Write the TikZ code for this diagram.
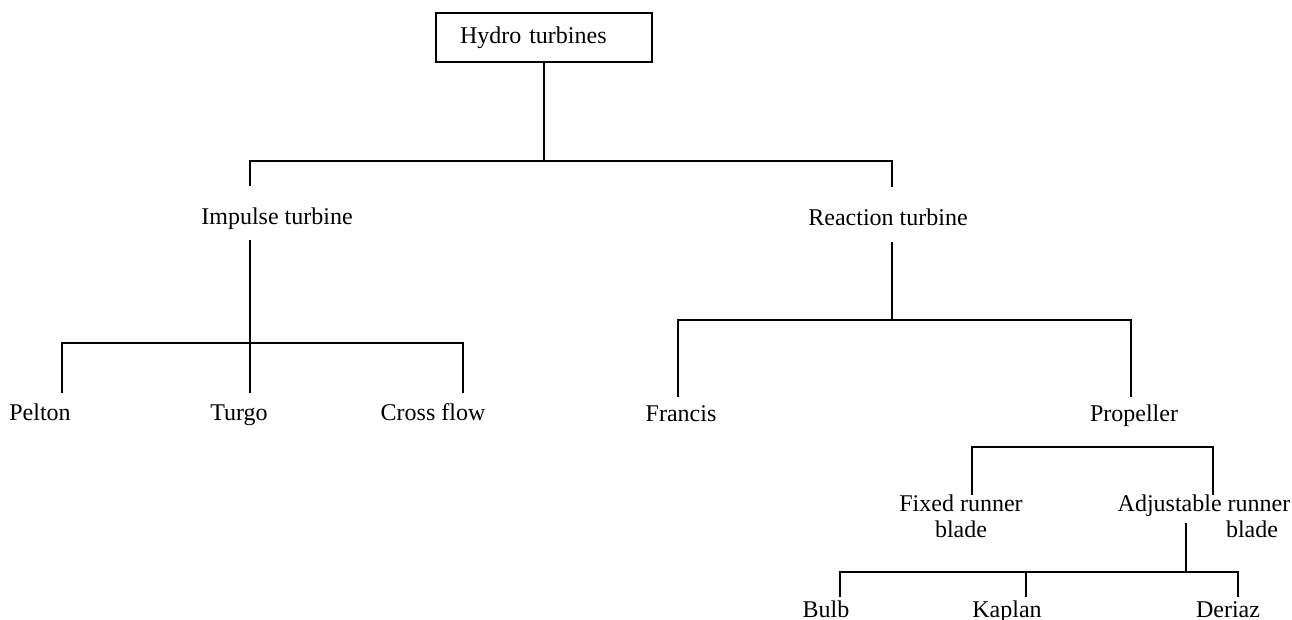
\documentclass[tikz,border=0pt]{standalone}
\usepackage{fontspec}
\setmainfont{Liberation Serif}
\usepackage{tikz}

\begin{document}
\begin{tikzpicture}[
    x=1pt, y=-1pt,
    box/.style={draw, line width=1.6pt, rectangle, minimum width=216pt, minimum height=49pt,
        inner xsep=24pt, text width=168pt, align=left, font=\fontsize{24pt}{26pt}\selectfont},
    lbl/.style={inner sep=0pt, text height=16pt, text depth=5pt, anchor=base,
        font=\fontsize{24pt}{26pt}\selectfont},
    lbltwo/.style={inner sep=0pt, anchor=north, align=center,
        font=\fontsize{24pt}{26pt}\selectfont},
    conn/.style={line width=1.9pt}
]
\useasboundingbox (0,0) rectangle (1292,620);

% Raiz
\node[box] (hydro) at (544,37.5) {Hydro turbines};

% Nivel 1
\node[lbl] (impulse) at (277,225) {Impulse turbine};
\node[lbl] (reaction) at (888,226) {Reaction turbine};

% Nivel 2
\node[lbl] (pelton) at (40,420) {Pelton};
\node[lbl] (turgo) at (239,420) {Turgo};
\node[lbl] (cross) at (433,420) {Cross flow};
\node[lbl] (francis) at (681,421) {Francis};
\node[lbl] (propeller) at (1134,421) {Propeller};

% Nivel 3
\node[lbltwo] (fixed) at (961,495) {Fixed runner\\blade};
\node[lbltwo] (adjust) at (1204,495) {Adjustable runner\\\hspace*{96pt}blade};

% Nivel 4
\node[lbl] (bulb) at (826,617) {Bulb};
\node[lbl] (kaplan) at (1007,617) {Kaplan};
\node[lbl] (deriaz) at (1228,617) {Deriaz};

% Barras
\coordinate (b1) at (544,161);
\coordinate (b2) at (250,343);
\coordinate (b3) at (892,320);
\coordinate (b4) at (1131,447);
\coordinate (adjtap) at (1186,523);
\coordinate (b5) at (1186,572);

% Ligacoes
\draw[conn] (hydro.south) -- (b1);
\draw[conn, shorten >=23pt] (b1) -| ([xshift=-27pt]impulse.north);
\draw[conn, shorten >=23pt] (b1) -| ([xshift=4pt]reaction.north);

\draw[conn, shorten <=10pt] ([xshift=-27pt]impulse.south) -- (b2);
\draw[conn, shorten >=11pt] (b2) -| ([xshift=22pt]pelton.north);
\draw[conn, shorten >=11pt] (b2) -- ([xshift=11pt]turgo.north);
\draw[conn, shorten >=11pt] (b2) -| ([xshift=30pt]cross.north);

\draw[conn, shorten <=11pt] ([xshift=4pt]reaction.south) -- (b3);
\draw[conn, shorten >=8pt] (b3) -| ([xshift=-3pt]francis.north);
\draw[conn, shorten >=8pt] (b3) -| ([xshift=-3pt]propeller.north);

\draw[conn] ([xshift=11pt]fixed.north) |- (b4) -| ([xshift=9pt]adjust.north);

\draw[conn, line width=1.4pt] (adjtap) -- (b5);
\draw[conn, shorten >=4pt] (b5) -| ([xshift=14pt]bulb.north);
\draw[conn, shorten >=4pt] (b5) -| ([xshift=19pt]kaplan.north);
\draw[conn, shorten >=4pt] (b5) -| ([xshift=10pt]deriaz.north);

\end{tikzpicture}
\end{document}
